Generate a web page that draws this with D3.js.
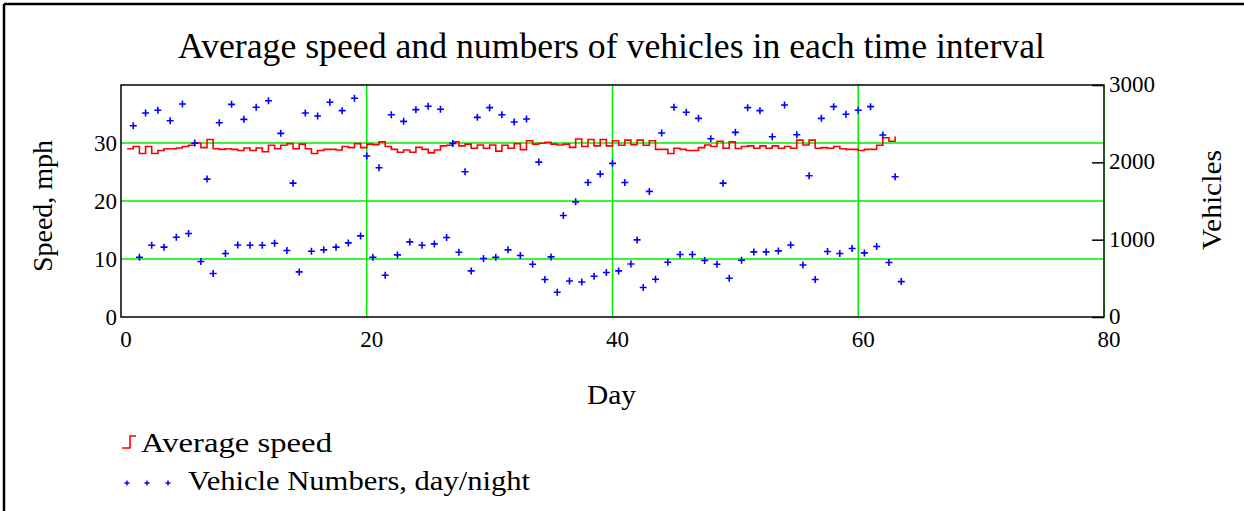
<!DOCTYPE html>
<html>
<head>
<meta charset="utf-8">
<script src="https://cdn.jsdelivr.net/npm/d3@7"></script>
<style>
  body { margin: 0; background: #fff; }
  text { font-family: "Liberation Serif", "Times New Roman", serif; fill: #000; }
</style>
</head>
<body>
<div id="chart"></div>
<script>
// average speed, one value per half-day step starting at day 0.5
var speed = [
  29.0, 29.4, 28.2, 29.4, 28.2, 28.7, 29.0, 29.0, 29.15, 29.4,
  29.6, 30.0, 29.2, 30.6, 29.0, 28.9, 29.0, 28.9, 28.7, 29.15,
  28.7, 29.15, 28.5, 29.6, 29.0, 29.6, 29.9, 29.0, 29.8, 29.0,
  28.2, 28.7, 28.9, 28.9, 28.8, 29.4, 29.2, 29.9, 29.2, 29.8,
  29.7, 30.2, 29.4, 28.9, 28.4, 28.8, 28.4, 29.25, 28.9, 28.3,
  28.8, 29.5, 29.6, 30.2, 29.5, 29.8, 29.1, 29.65, 29.1, 29.65,
  28.6, 29.6, 29.1, 29.9, 28.85, 30.4, 29.8, 29.95, 30.1, 29.8,
  29.65, 29.8, 29.25, 30.7, 29.4, 30.6, 29.5, 30.6, 29.5, 30.4,
  29.6, 30.5, 29.7, 30.5, 29.6, 30.4, 28.9, 28.9, 28.2, 29.1,
  28.9, 28.7, 28.7, 29.2, 29.65, 29.4, 30.3, 29.1, 30.2, 29.05,
  29.4, 29.5, 29.1, 29.5, 29.1, 29.5, 29.1, 29.4, 29.1, 30.5,
  29.65, 30.5, 29.1, 29.2, 29.1, 29.4, 29.0, 28.9, 28.9, 28.7,
  28.9, 28.9, 29.6, 30.9, 30.3, 31.1
];
var speedDays = d3.range(speed.length).map(i => 0.5 + i * 0.5);

// vehicle numbers: day counts at day 1..63, night counts at day 1.5..63.5
var dayCounts = [
  2473, 2638, 2673, 2538, 2754, 2249, 1783, 2512, 2750, 2556,
  2712, 2797, 2375, 1731, 2638, 2599, 2776, 2668, 2828, 2081,
  1930, 2616, 2530, 2681, 2725, 2686, 2245, 1878, 2582, 2707,
  2616, 2521, 2560, 2003, 777, 1313, 1489, 1740, 1848, 1987,
  1740, 997, 1624, 2379, 2712, 2647, 2569, 2305, 1731, 2388,
  2707, 2668, 2331, 2742, 2357, 1826, 2569, 2720, 2621, 2673,
  2720, 2353, 1813
];
var nightCounts = [
  773, 928, 903, 1032, 1080, 717, 562, 821, 932, 928,
  928, 954, 860, 583, 851, 868, 903, 958, 1049, 773,
  540, 803, 971, 928, 945, 1028, 838, 596, 756, 773,
  868, 795, 682, 484, 320, 466, 453, 527, 575, 596,
  686, 381, 488, 708, 808, 808, 730, 682, 501, 734,
  842, 842, 855, 932, 673, 484, 847, 821, 886, 829,
  912, 704, 458
];

var xTicks = [0, 20, 40, 60, 80];
var speedTicks = [0, 10, 20, 30];
var vehTicks = [0, 1000, 2000, 3000];

var title = 'Average speed and numbers of vehicles in each time interval';

const width = 1244, height = 511;
const padL = 121, padR = 1104, padT = 85, padB = 317;

var speedData = speed.map((v, i) => ({day: speedDays[i], value: v}));
var vehData = [];
dayCounts.forEach(function(v, i){
    vehData.push({day: i + 1, value: v});
    vehData.push({day: i + 1.5, value: nightCounts[i]});
});

const svg = d3.select('#chart').append('svg')
    .attr('width', width)
    .attr('height', height);

svg.append('rect').attr('width', width).attr('height', height).attr('fill', '#fff');

// outer frame (left and top edges visible)
svg.append('line').attr('x1', 4).attr('x2', width).attr('y1', 4).attr('y2', 4)
    .attr('stroke', '#000').attr('stroke-width', 2.5);
svg.append('line').attr('x1', 4).attr('x2', 4).attr('y1', 4).attr('y2', height)
    .attr('stroke', '#000').attr('stroke-width', 2.5);

var xScale = d3.scaleLinear().domain([0, 80]).range([padL, padR]);
var yScale = d3.scaleLinear().domain([0, 40]).range([padB, padT]);
var y2Scale = d3.scaleLinear().domain([0, 3000]).range([padB, padT]);

// grid
svg.append('g').selectAll('line')
    .data([10, 20, 30])
    .join('line')
    .attr('x1', padL).attr('x2', padR)
    .attr('y1', d => yScale(d)).attr('y2', d => yScale(d))
    .attr('stroke', '#00ee00').attr('stroke-width', 1.5);
svg.append('g').selectAll('line')
    .data([20, 40, 60])
    .join('line')
    .attr('x1', d => xScale(d)).attr('x2', d => xScale(d))
    .attr('y1', padT).attr('y2', padB)
    .attr('stroke', '#00ee00').attr('stroke-width', 1.5);

// plot box
svg.append('rect')
    .attr('x', padL).attr('y', padT)
    .attr('width', padR - padL).attr('height', padB - padT)
    .attr('fill', 'none').attr('stroke', '#000').attr('stroke-width', 1.5);
svg.append('line').attr('x1', padR).attr('x2', padR).attr('y1', padT).attr('y2', padB)
    .attr('stroke', '#1a5a1a').attr('stroke-width', 1.5);

// axes
var xAxis = svg.append('g').attr('transform', 'translate(0,' + padB + ')')
    .call(d3.axisBottom(xScale).tickValues(xTicks).tickSize(0).tickPadding(14));
var yAxis = svg.append('g').attr('transform', 'translate(' + padL + ',0)')
    .call(d3.axisLeft(yScale).tickValues(speedTicks).tickSize(0).tickPadding(4));
var y2Axis = svg.append('g').attr('transform', 'translate(' + padR + ',0)')
    .call(d3.axisRight(y2Scale).tickValues(vehTicks).tickFormat(d3.format('d')).tickSize(-12).tickPadding(5));
[xAxis, yAxis, y2Axis].forEach(function(a){
    a.select('.domain').remove();
    a.selectAll('text').style('font-family', '"Liberation Serif", serif').style('font-size', '23px').attr('fill', '#000');
    a.selectAll('line').attr('stroke', '#000').attr('stroke-width', 1.5);
});
xAxis.selectAll('text').attr('dx', '0.2em');
y2Axis.selectAll('text').attr('dy', '0.28em');

// speed step line
var line = d3.line()
    .x(d => xScale(d.day))
    .y(d => yScale(d.value))
    .curve(d3.curveStepAfter);
svg.append('path')
    .datum(speedData)
    .attr('d', line)
    .attr('fill', 'none')
    .attr('stroke', '#ff0000')
    .attr('stroke-width', 1.6);

// vehicle markers
svg.append('g').selectAll('path')
    .data(vehData)
    .join('path')
    .attr('transform', d => 'translate(' + xScale(d.day) + ',' + y2Scale(d.value) + ')')
    .attr('d', 'M-3.5,0H3.5M0,-3.5V3.5')
    .attr('stroke', '#0000ff')
    .attr('stroke-width', 1.6)
    .attr('fill', 'none');

// titles
svg.append('text')
    .attr('x', 178).attr('y', 58)
    .attr('textLength', 867).attr('lengthAdjust', 'spacingAndGlyphs')
    .style('font-size', '35px')
    .text(title);
svg.append('text')
    .attr('transform', 'translate(52,272) rotate(-90)')
    .attr('textLength', 132).attr('lengthAdjust', 'spacingAndGlyphs')
    .style('font-size', '28px')
    .text('Speed, mph');
svg.append('text')
    .attr('transform', 'translate(1221,250) rotate(-90)')
    .attr('textLength', 100).attr('lengthAdjust', 'spacingAndGlyphs')
    .style('font-size', '28px')
    .text('Vehicles');
svg.append('text')
    .attr('x', 587).attr('y', 404)
    .attr('textLength', 49).attr('lengthAdjust', 'spacingAndGlyphs')
    .style('font-size', '28px')
    .text('Day');

// legend
svg.append('path')
    .attr('d', 'M122,448H130V436H136')
    .attr('fill', 'none').attr('stroke', '#ff0000').attr('stroke-width', 1.6);
svg.append('text').attr('x', 141).attr('y', 452)
    .attr('textLength', 191).attr('lengthAdjust', 'spacingAndGlyphs')
    .style('font-size', '28px').text('Average speed');
svg.append('g').selectAll('path')
    .data([127, 147, 168])
    .join('path')
    .attr('transform', d => 'translate(' + d + ',483)')
    .attr('d', 'M-2.5,0H2.5M0,-2.5V2.5')
    .attr('stroke', '#0000ff').attr('stroke-width', 1.4);
svg.append('text').attr('x', 188).attr('y', 490)
    .attr('textLength', 342).attr('lengthAdjust', 'spacingAndGlyphs')
    .style('font-size', '28px').text('Vehicle Numbers, day/night');
</script>
</body>
</html>
